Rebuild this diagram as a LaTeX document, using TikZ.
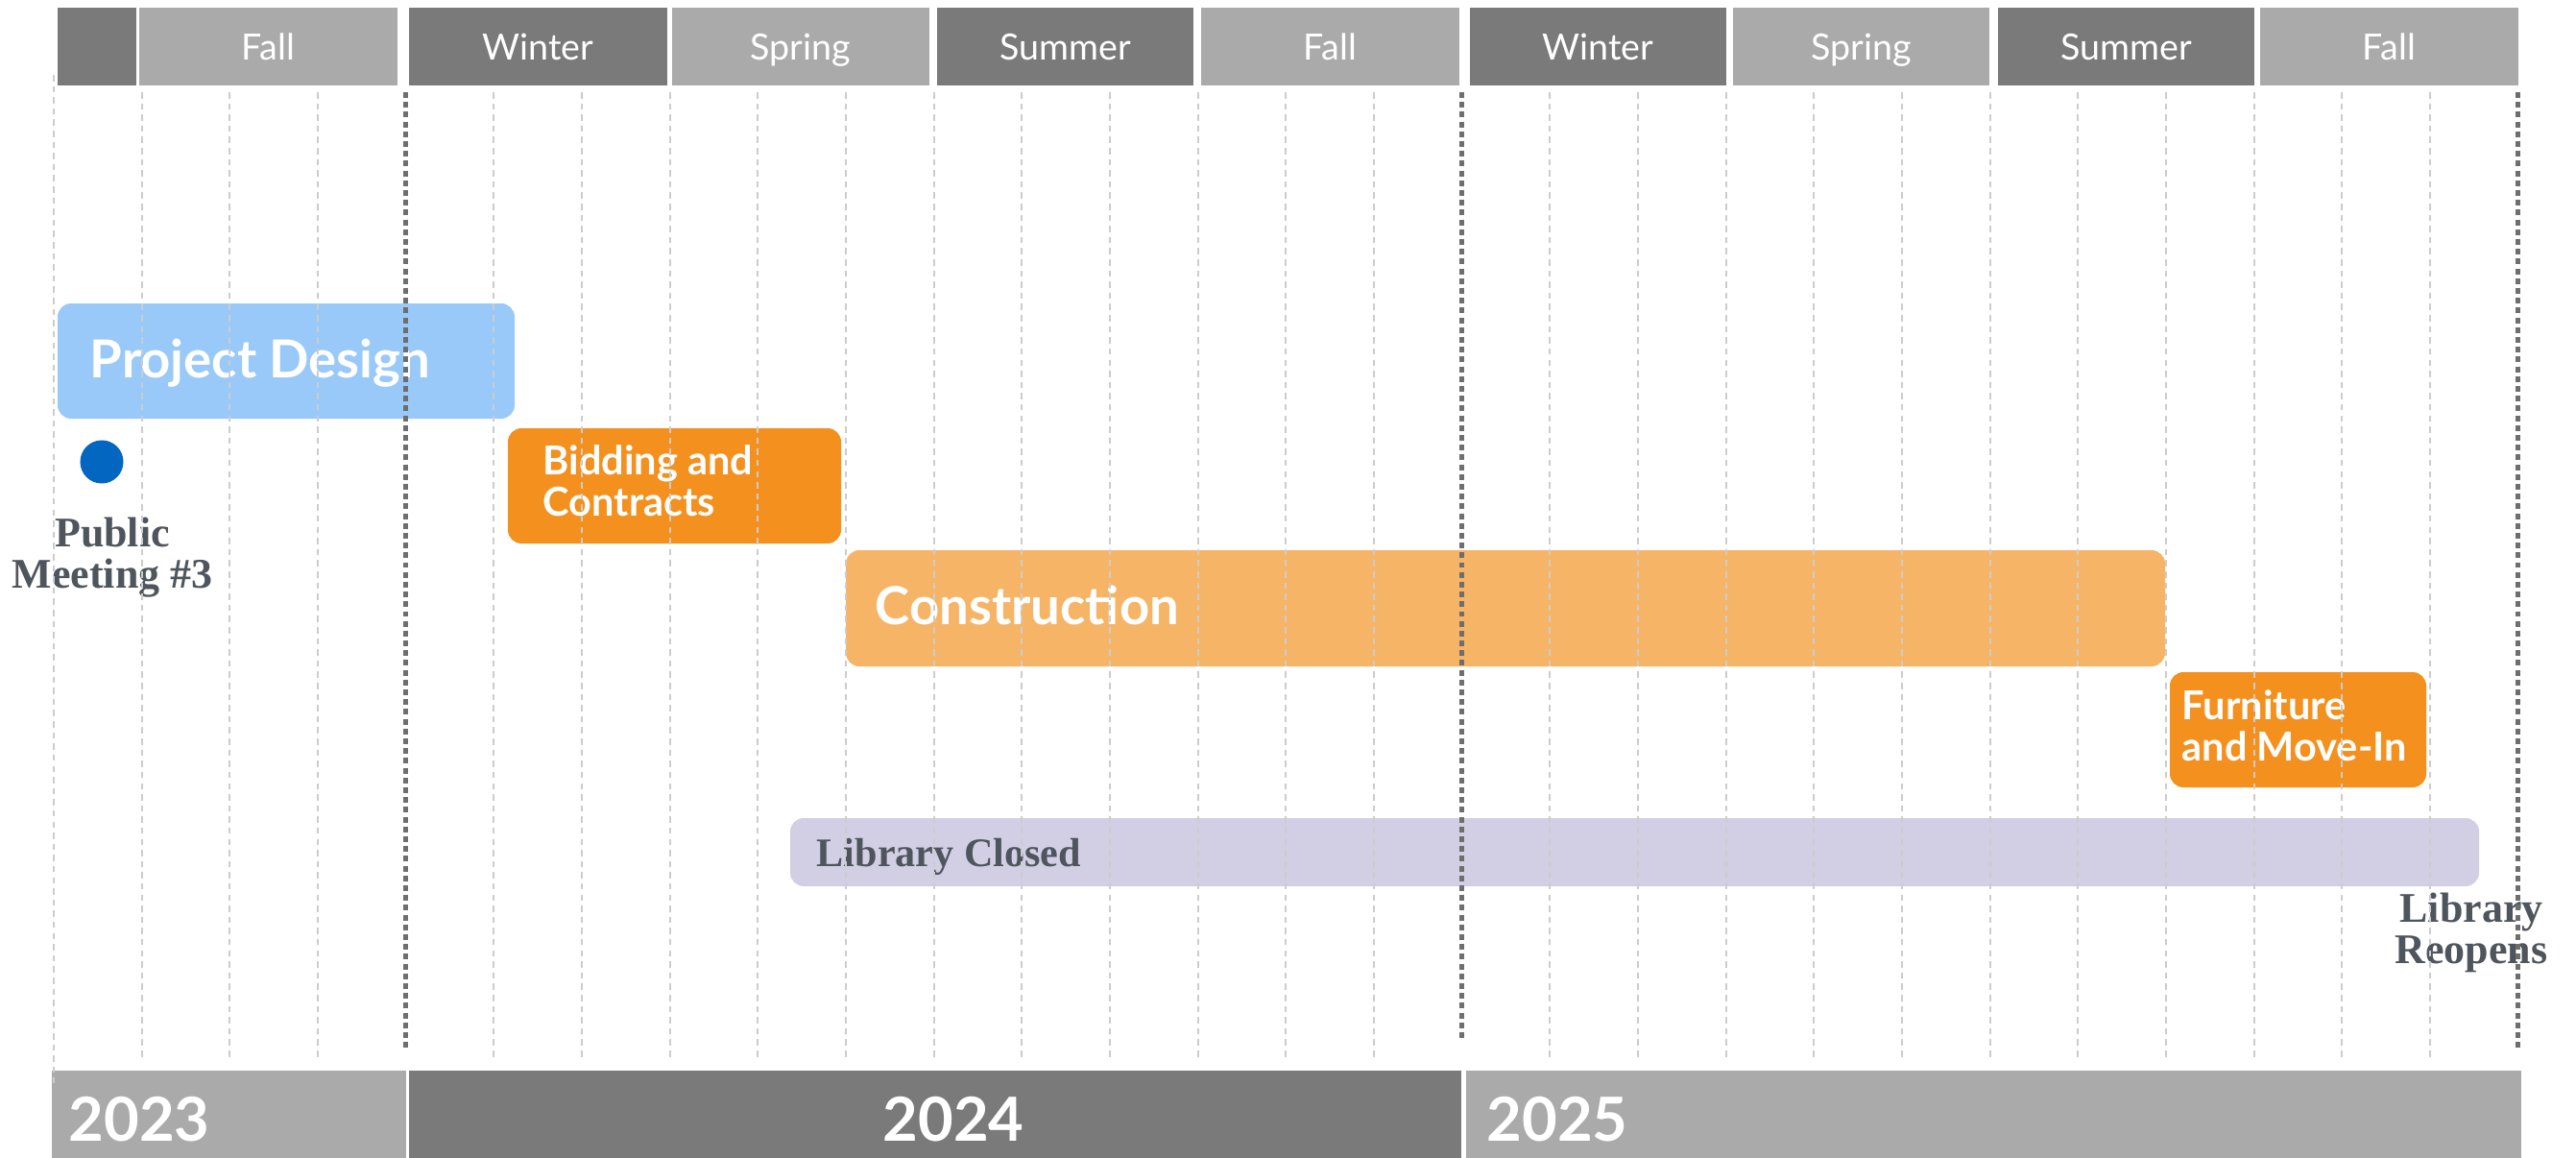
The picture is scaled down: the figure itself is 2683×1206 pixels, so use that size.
\documentclass[tikz,border=0pt]{standalone}
\usepackage{fontspec}
\setmainfont{Liberation Serif}
\setsansfont{Lato}
\usepackage{xcolor}

\definecolor{headdark}{HTML}{7A7A7A}
\definecolor{headlight}{HTML}{AAAAAA}
\definecolor{gridgray}{HTML}{CCCCCC}
\definecolor{yeargray}{HTML}{6E6E6E}
\definecolor{designblue}{HTML}{99C9F8}
\definecolor{bidorange}{HTML}{F3901E}
\definecolor{buildorange}{HTML}{F6B466}
\definecolor{closedlilac}{HTML}{D2CFE5}
\definecolor{dotblue}{HTML}{0366C1}
\definecolor{notegray}{HTML}{4F555D}

\begin{document}
\begin{tikzpicture}[x=0.01cm, y=-0.01cm,
    season/.style={font=\sffamily\fontsize{10.7}{12}\selectfont, text=white, inner sep=0pt, anchor=base},
    yearlbl/.style={font=\sffamily\bfseries\fontsize{18}{20}\selectfont, text=white, inner sep=0pt},
    bigtask/.style={font=\sffamily\bfseries\fontsize{15.5}{17}\selectfont, text=white, inner sep=0pt, anchor=base west},
    smalltask/.style={font=\sffamily\bfseries\fontsize{11.8}{12}\selectfont, text=white, inner sep=0pt, align=left, anchor=base west},
    note/.style={font=\bfseries\fontsize{12.5}{12}\selectfont, text=notegray, inner sep=0pt, align=center, anchor=base},
    taskbar/.style={rounded corners=4pt},
    monthline/.style={draw=gridgray, line width=0.6pt, dash pattern=on 1.85pt off 1.45pt},
    yearline/.style={draw=yeargray, line width=1.4pt, dash pattern=on 1.7pt off 1.2pt}]

\useasboundingbox (0,0) rectangle (2683,1206);

% season header
\foreach \a/\b/\col/\name/\lbl in {60/142/headdark/s0/, 145/414/headlight/s1/Fall,
    426/695/headdark/s2/Winter, 700/968/headlight/s3/Spring, 976/1243/headdark/s4/Summer,
    1251/1520/headlight/s5/Fall, 1531/1798/headdark/s6/Winter, 1805/2072/headlight/s7/Spring,
    2081/2348/headdark/s8/Summer, 2354/2623/headlight/s9/Fall} {
    \fill[\col] (\a,8) rectangle (\b,89);
    \node[season] (\name) at ({(\a+\b)/2},62) {\lbl};
}

% year footer
\fill[headlight] (54,1115) rectangle (423,1206);
\fill[headdark] (426,1115) rectangle (1522,1206);
\fill[headlight] (1527,1115) rectangle (2626,1206);
\node[yearlbl, anchor=base west] (y2023) at (71,1188) {2023};
\node[yearlbl, anchor=base] (y2024) at (993,1188) {2024};
\node[yearlbl, anchor=base west] (y2025) at (1548,1188) {2025};

% task bars
\fill[designblue, taskbar] (60,316) rectangle (536,436);
\fill[bidorange, taskbar] (529,446) rectangle (876,566);
\fill[buildorange, taskbar] (881,573) rectangle (2255,694);
\fill[bidorange, taskbar] (2260,700) rectangle (2527,820);
\fill[closedlilac, taskbar] (823,852) rectangle (2582,923);

% (two-line labels sit on their last baseline)
\node[bigtask] (design) at (93,393) {Project Design};
\node[smalltask] (bidding) at (565,537) {Bidding and\\Contracts};
\node[bigtask] (build) at (911,650) {Construction};
\node[smalltask] (movein) at (2272,792) {Furniture\\and Move-In};
\node[note, anchor=base west, font=\bfseries\fontsize{12}{12}\selectfont] (closed) at (850,902) {Library Closed};

% milestones
\node[circle, fill=dotblue, minimum size=0.45cm, inner sep=0pt] (meeting) at (106,481) {};
\node[note] (meetinglbl) at (117,612) {Public\\Meeting \#3};
\node[note] (reopen) at (2574,1003) {Library\\Reopens};

% month grid
\draw[monthline] (56,78) -- (56,1128);
\foreach \k in {1,2,3,5,6,...,15,17,18,...,27} {
    \draw[monthline] ({56+91.67*\k},96) -- ({56+91.67*\k},1103);
}
\foreach \k/\e in {4/1093, 16/1082, 28/1091} {
    \draw[yearline] ({56+91.67*\k},96) -- ({56+91.67*\k},\e);
}
\end{tikzpicture}
\end{document}
